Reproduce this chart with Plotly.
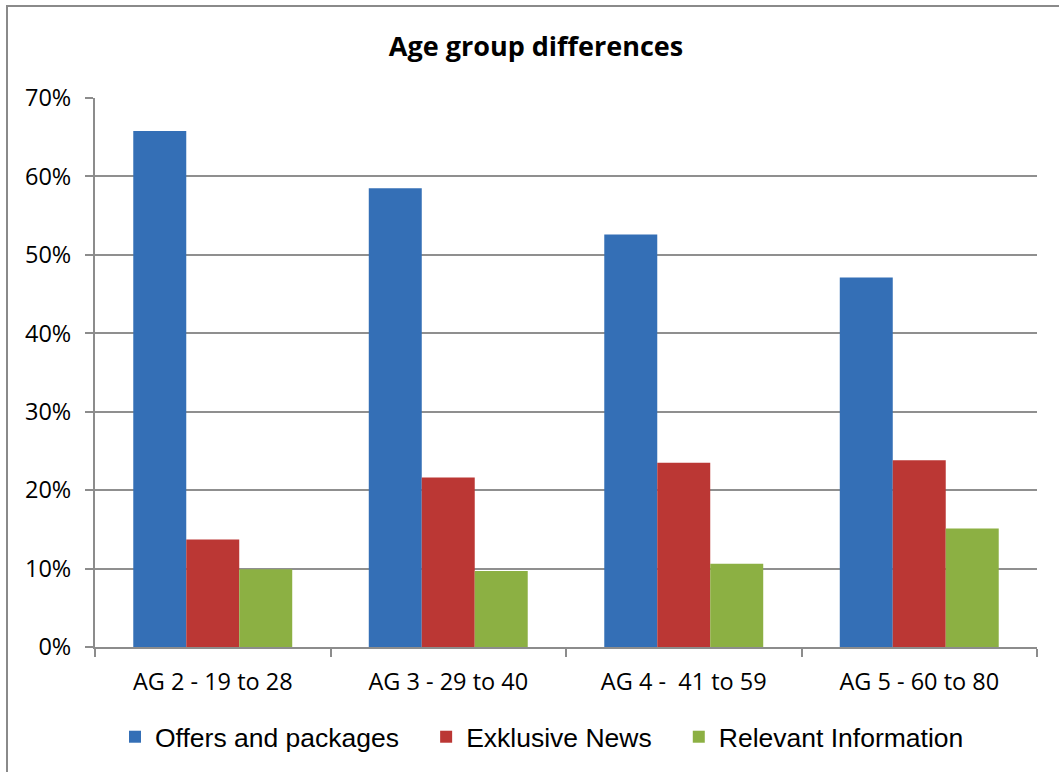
import plotly.graph_objects as go

# Survey shares by age group
age_groups = ["AG 2 - 19 to 28", "AG 3 - 29 to 40", "AG 4 -  41 to 59", "AG 5 - 60 to 80"]
offers_and_packages = [0.658, 0.585, 0.526, 0.471]
exklusive_news = [0.137, 0.216, 0.235, 0.238]
relevant_information = [0.099, 0.097, 0.106, 0.151]
y_ticks = [0, 0.1, 0.2, 0.3, 0.4, 0.5, 0.6, 0.7]
y_tick_labels = ["0%", "10%", "20%", "30%", "40%", "50%", "60%", "70%"]
series_names = ["Offers and packages", "Exklusive News", "Relevant Information"]

series_colors = ["#346fb6", "#bb3734", "#8cb043"]
series_values = [offers_and_packages, exklusive_news, relevant_information]

# trailing no-break spaces widen the gap between legend entries
pad = "\u00a0" * 3

fig = go.Figure()
for name, values, color in zip(series_names, series_values, series_colors):
    fig.add_trace(go.Bar(
        x=age_groups, y=values, name=name + pad,
        marker=dict(color=color, line=dict(width=0)),
    ))

tick_font = dict(family="Open Sans", size=23.5, color="#000000")

fig.update_layout(
    width=1059, height=772,
    margin=dict(l=95, r=22, t=98, b=125, autoexpand=False),
    paper_bgcolor="#ffffff", plot_bgcolor="#ffffff",
    barmode="group", bargap=0.325, bargroupgap=0,
    title=dict(text="<b>Age group differences</b>", x=536 / 1059, xanchor="center",
               y=1 - 47 / 772, yanchor="middle",
               font=dict(family="Open Sans", size=27, color="#000000")),
    legend=dict(orientation="h", x=(553 - 95) / 942, xanchor="center",
                y=(647 - 737) / 549, yanchor="middle",
                font=dict(family="Liberation Sans", size=26.5, color="#000000"),
                itemwidth=30, bgcolor="rgba(0,0,0,0)"),
    showlegend=True,
)

fig.update_xaxes(
    type="category", tickson="boundaries", ticks="outside", ticklen=8,
    tickcolor="#8c8c8c", tickwidth=2, showline=True, linecolor="#8c8c8c",
    linewidth=2, showgrid=False, tickfont=tick_font, ticklabelstandoff=13,
)
fig.update_yaxes(
    range=[0, 0.7], tickvals=y_ticks, ticktext=y_tick_labels,
    ticks="outside", ticklen=8, tickcolor="#8c8c8c", tickwidth=2,
    showline=True, linecolor="#8c8c8c", linewidth=2,
    showgrid=True, gridcolor="#8f8f8f", gridwidth=2,
    zeroline=False, tickfont=tick_font, ticklabelstandoff=9,
)

# Outer chart frame
fig.add_shape(type="rect", xref="paper", yref="paper",
              x0=(7 - 95) / 942, x1=1.1, y0=-0.5, y1=1 + (98 - 6) / 549,
              line=dict(color="#8a8a8a", width=2), fillcolor="rgba(0,0,0,0)",
              layer="below")

fig.write_html("out.html")
